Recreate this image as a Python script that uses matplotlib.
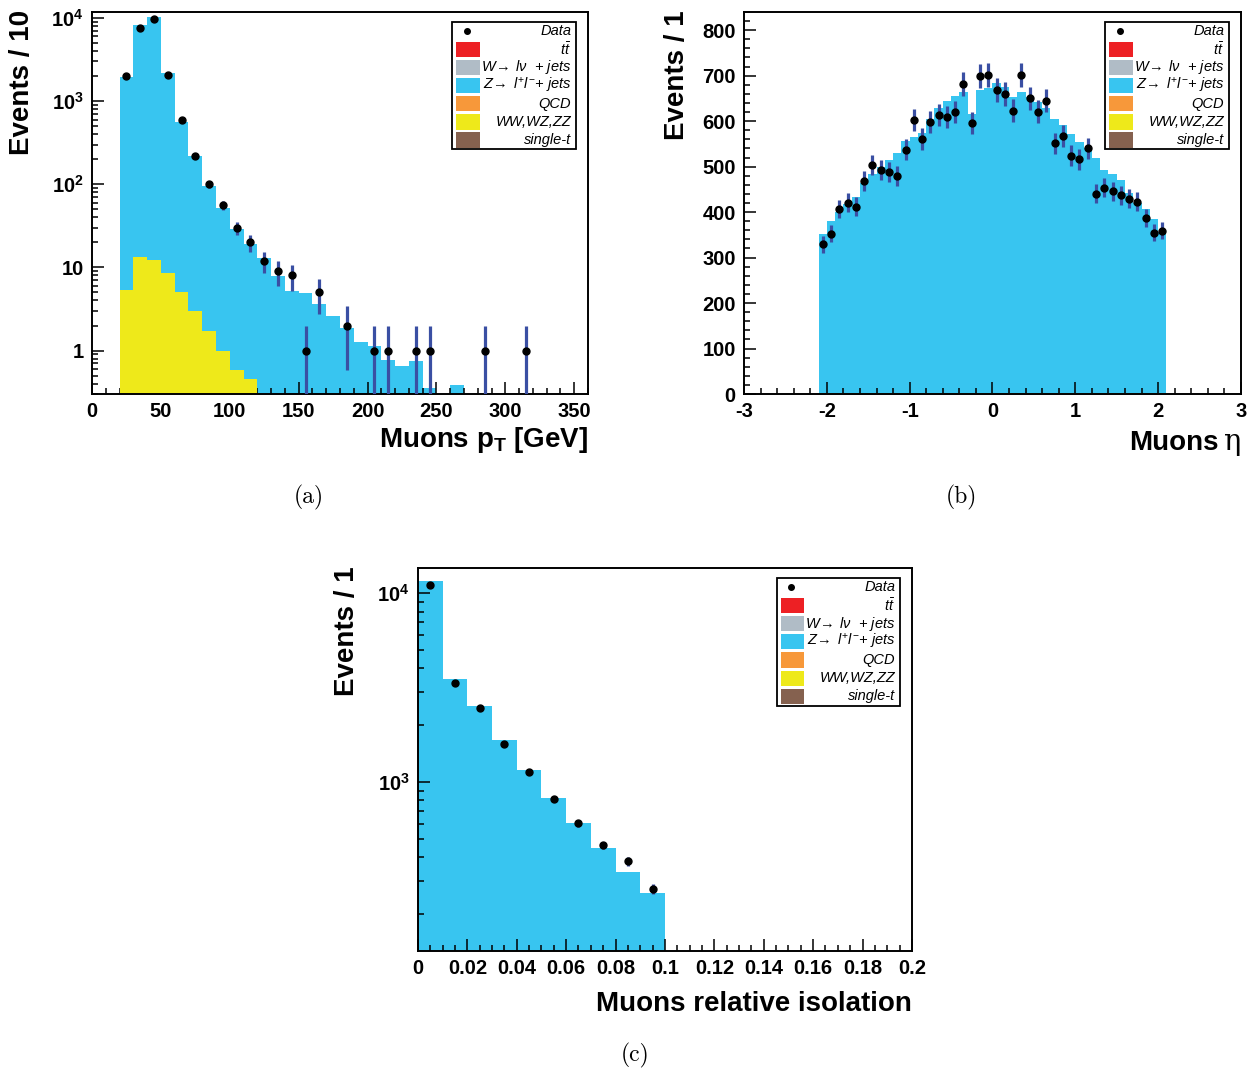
import numpy as np
import matplotlib
matplotlib.use("Agg")
import matplotlib.pyplot as plt
from matplotlib.patches import Rectangle
from matplotlib.ticker import MultipleLocator, FuncFormatter, NullFormatter

###############################################################################
# Settings
###############################################################################
plt.rcParams['font.family'] = ['Liberation Sans', 'DejaVu Sans']
plt.rcParams['font.weight'] = 'bold'
plt.rcParams['axes.unicode_minus'] = False
plt.rcParams['mathtext.fontset'] = 'custom'
plt.rcParams['mathtext.rm'] = 'Liberation Sans:weight=normal'
plt.rcParams['mathtext.it'] = 'Liberation Sans:style=italic:weight=normal'
plt.rcParams['mathtext.bf'] = 'Liberation Sans:weight=bold'

z_color = '#38c5f0'
vv_color = '#eee91a'
err_color = '#3a4fa3'

legend_labels = ['Data', r'$t\bar{t}$', r'$W\!\rightarrow\;l\nu$  + jets',
                 r'$Z\!\rightarrow\;l^{+}l^{-}$+ jets', 'QCD', 'WW,WZ,ZZ', 'single-t']
legend_colors = [None, '#ed2024', '#b0bcc6', z_color, '#f7983a', vv_color, '#85614f']

###############################################################################
# (a) Muons pT, bins of 10 GeV from 20 GeV
###############################################################################
pt_edges = np.arange(20, 330, 10)
pt_total = [1970, 8240, 10370, 2170, 560, 216, 96, 52, 29, 19, 13, 7.8, 5.2, 4.9,
            3.6, 2.6, 1.86, 1.25, 1.12, 0.78, 0.66, 0.74, 0.35, 0, 0.38, 0, 0, 0, 0, 0]
pt_diboson = [5.3, 13.2, 12.2, 8.6, 5.1, 3.0, 1.7, 0.98, 0.59, 0.46, 0, 0, 0, 0,
              0, 0, 0, 0, 0, 0, 0, 0, 0, 0, 0, 0, 0, 0, 0, 0]
pt_data = [2000, 7660, 9730, 2070, 585, 216, 100, 56, 30, 20, 12, 9, 8, 1,
           5, 0, 2, 0, 1, 1, 0, 1, 1, 0, 0, 0, 1, 0, 0, 1]

###############################################################################
# (b) Muons eta, bins of 0.1 from -2.1 to 2.1
###############################################################################
eta_edges = np.round(np.arange(-2.1, 2.15, 0.1), 2)
eta_total = [351, 381, 401, 418, 433, 465, 484, 499, 515, 531, 557, 566, 575, 605,
             629, 645, 656, 665, 616, 669, 673, 684, 674, 652, 665, 653, 643, 630,
             604, 591, 572, 554, 540, 518, 492, 483, 471, 443, 421, 407, 384, 357]
eta_diboson = [2, 2, 2, 3, 3, 3, 3, 3, 3, 3, 3, 3, 3, 3, 3, 3, 3, 3, 3, 3, 3,
               3, 3, 3, 3, 3, 3, 3, 3, 3, 3, 3, 3, 3, 3, 3, 3, 3, 3, 2, 2, 2]
eta_data = [329, 352, 407, 421, 412, 468, 504, 493, 488, 479, 537, 603, 561, 598,
            613, 609, 620, 681, 596, 700, 701, 668, 660, 623, 701, 650, 621, 645,
            551, 567, 524, 516, 540, 440, 454, 446, 437, 429, 423, 387, 355, 359]

###############################################################################
# (c) Muons relative isolation, bins of 0.01
###############################################################################
iso_edges = np.round(np.arange(0, 0.105, 0.01), 3)
iso_total = [11620, 3520, 2530, 1660, 1160, 826, 605, 447, 333, 257]
iso_data = [11070, 3360, 2460, 1595, 1130, 808, 605, 461, 380, 270]


def draw_legend(ax):
    x0, x1, ytop, ybot = 0.726, 0.976, 0.974, 0.641
    ax.add_patch(Rectangle((x0, ybot), x1 - x0, ytop - ybot, transform=ax.transAxes,
                           facecolor='white', edgecolor='black', lw=1.3, zorder=5))
    row_h = (ytop - ybot) / len(legend_labels)
    for i, (lab, col) in enumerate(zip(legend_labels, legend_colors)):
        yc = ytop - (i + 0.5) * row_h
        if col is None:
            ax.plot([x0 + 0.03], [yc], 'o', color='black', ms=4, transform=ax.transAxes,
                    zorder=6, clip_on=False)
        else:
            ax.add_patch(Rectangle((x0 + 0.008, yc - 0.42 * row_h), 0.048, 0.84 * row_h,
                                   transform=ax.transAxes, facecolor=col,
                                   edgecolor='none', zorder=6))
        ax.text(x1 - 0.01, yc, lab, transform=ax.transAxes, ha='right', va='center',
                fontsize=10.5, style='italic', fontweight='normal', zorder=7)


def style_axes(ax):
    for s in ax.spines.values():
        s.set_linewidth(1.4)
    ax.tick_params(which='both', direction='in', top=False, right=False,
                   labelsize=14.5, width=1.1, pad=6)
    ax.tick_params(which='major', length=8.5)
    ax.tick_params(which='minor', length=4.5)


def log_label(v, pos):
    if v >= 100:
        return r'$\mathbf{10^{%d}}$' % round(np.log10(v))
    return '%g' % v


def plot_data(ax, centers, counts):
    counts = np.array(counts, dtype=float)
    m = counts > 0
    err = np.sqrt(counts[m])
    lo = np.minimum(err, counts[m] - 1e-3)
    ax.errorbar(centers[m], counts[m], yerr=[lo, err], fmt='o', color='black', ms=5,
                ecolor=err_color, elinewidth=2.3, capsize=0, zorder=4)


fig = plt.figure(figsize=(12.54, 10.71), dpi=100)

###############################################################################
# Panel (a)
###############################################################################
ax = fig.add_axes([0.0734, 0.6321, 0.3955, 0.3567])
ax.set_yscale('log')
w = pt_edges[1:] - pt_edges[:-1]
ax.bar(pt_edges[:-1], pt_total, width=w, align='edge', color=z_color, lw=0, zorder=1)
ax.bar(pt_edges[:-1], pt_diboson, width=w, align='edge', color=vv_color, lw=0, zorder=2)
plot_data(ax, 0.5 * (pt_edges[1:] + pt_edges[:-1]), pt_data)
ax.set_xlim(0, 360)
ax.set_ylim(0.3, 11800)
ax.xaxis.set_major_locator(MultipleLocator(50))
ax.xaxis.set_minor_locator(MultipleLocator(10))
ax.yaxis.set_major_formatter(FuncFormatter(log_label))
ax.yaxis.set_minor_formatter(NullFormatter())
style_axes(ax)
draw_legend(ax)
ax.text(-0.141, 1.005, 'Events / 10', transform=ax.transAxes, rotation=90,
        ha='center', va='top', fontsize=20)
ax.text(1.0, -0.139, r'Muons p$_{\mathbf{T}}$ [GeV]', transform=ax.transAxes,
        ha='right', va='baseline', fontsize=20)

###############################################################################
# Panel (b)
###############################################################################
ax = fig.add_axes([0.5933, 0.6321, 0.3963, 0.3567])
w = eta_edges[1:] - eta_edges[:-1]
ax.bar(eta_edges[:-1], eta_total, width=w, align='edge', color=z_color, lw=0, zorder=1)
ax.bar(eta_edges[:-1], eta_diboson, width=w, align='edge', color=vv_color, lw=0, zorder=2)
plot_data(ax, 0.5 * (eta_edges[1:] + eta_edges[:-1]), eta_data)
ax.set_xlim(-3, 3)
ax.set_ylim(0, 840)
ax.xaxis.set_major_locator(MultipleLocator(1))
ax.xaxis.set_minor_locator(MultipleLocator(0.2))
ax.yaxis.set_major_locator(MultipleLocator(100))
ax.yaxis.set_minor_locator(MultipleLocator(20))
ax.xaxis.set_major_formatter(FuncFormatter(lambda v, p: '%d' % round(v)))
style_axes(ax)
draw_legend(ax)
ax.text(-0.135, 1.005, 'Events / 1', transform=ax.transAxes, rotation=90,
        ha='center', va='top', fontsize=20)
ax.text(0.955, -0.147, 'Muons', transform=ax.transAxes,
        ha='right', va='baseline', fontsize=20)
ax.text(1.0, -0.147, 'η', transform=ax.transAxes, family='DejaVu Serif',
        fontweight='normal', ha='right', va='baseline', fontsize=21)

###############################################################################
# Panel (c)
###############################################################################
ax = fig.add_axes([0.3333, 0.1120, 0.3939, 0.3576])
ax.set_yscale('log')
w = iso_edges[1:] - iso_edges[:-1]
ax.bar(iso_edges[:-1], iso_total, width=w, align='edge', color=z_color, lw=0, zorder=1)
plot_data(ax, 0.5 * (iso_edges[1:] + iso_edges[:-1]), iso_data)
ax.set_xlim(0, 0.2)
ax.set_ylim(127, 13600)
ax.xaxis.set_major_locator(MultipleLocator(0.02))
ax.xaxis.set_minor_locator(MultipleLocator(0.005))
ax.xaxis.set_major_formatter(FuncFormatter(lambda v, p: '%g' % round(v, 3)))
ax.yaxis.set_major_formatter(FuncFormatter(log_label))
ax.yaxis.set_minor_formatter(NullFormatter())
style_axes(ax)
draw_legend(ax)
ax.text(-0.143, 1.005, 'Events / 1', transform=ax.transAxes, rotation=90,
        ha='center', va='top', fontsize=20)
ax.text(1.0, -0.157, 'Muons relative isolation', transform=ax.transAxes,
        ha='right', va='baseline', fontsize=20)

###############################################################################
# Captions
###############################################################################
fig.text(309 / 1254, 1 - 497 / 1071, '(a)', family='cmr10', fontweight='normal',
         fontsize=17, ha='center', va='center')
fig.text(961 / 1254, 1 - 497 / 1071, '(b)', family='cmr10', fontweight='normal',
         fontsize=17, ha='center', va='center')
fig.text(635 / 1254, 1 - 1055 / 1071, '(c)', family='cmr10', fontweight='normal',
         fontsize=17, ha='center', va='center')

plt.savefig('out.png', dpi=100)
